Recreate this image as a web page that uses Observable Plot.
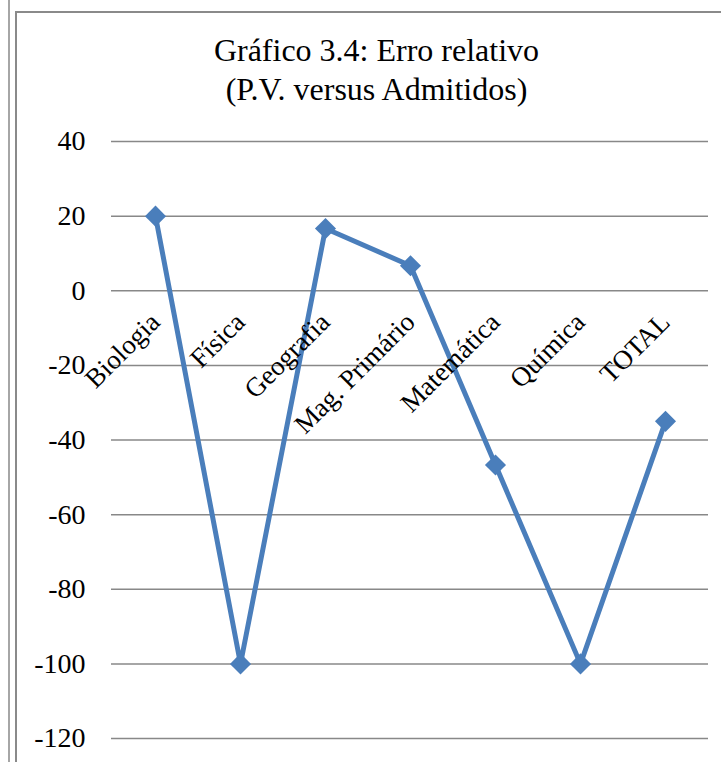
<!DOCTYPE html>
<html>
<head>
<meta charset="utf-8">
<script src="https://cdn.jsdelivr.net/npm/d3@7"></script>
<script src="https://cdn.jsdelivr.net/npm/@observablehq/plot@0.6"></script>
<style>
  html, body { margin: 0; padding: 0; background: #fff; }
  #wrap { position: relative; width: 721px; height: 762px; overflow: hidden; }
  #outer { position: absolute; left: 8px; top: 0; width: 2px; height: 762px; background: #a6a6a6; }
  #inner { position: absolute; left: 15px; top: 11px; width: 720px; height: 800px; border-left: 2px solid #8a8a8a; border-top: 2px solid #8a8a8a; }
  #title { position: absolute; left: 16px; top: 31px; width: 721px; text-align: center; font-family: "Liberation Serif", serif; font-size: 32px; line-height: 39px; color: #000; }
  #chart { position: absolute; left: 0; top: 0; }
</style>
</head>
<body>
<div id="wrap">
  <div id="outer"></div>
  <div id="inner"></div>
  <div id="chart"></div>
  <div id="title">Gráfico 3.4: Erro relativo<br>(P.V. versus Admitidos)</div>
</div>
<script>
const categories = ["Biologia", "Física", "Geografia", "Mag. Primário", "Matemática", "Química", "TOTAL"];
const values = [20, -100, 16.7, 6.7, -46.7, -100, -35];
const yTicks = [-120, -100, -80, -60, -40, -20, 0, 20, 40];

const data = categories.map((c, i) => ({category: c, value: values[i]}));

const chart = Plot.plot({
  width: 721,
  height: 762,
  marginLeft: 111,
  marginRight: 13,
  marginTop: 141,
  marginBottom: 24,
  style: {fontFamily: "Liberation Serif, serif", background: "transparent", overflow: "visible"},
  x: {type: "point", domain: categories, padding: 0.5, axis: null},
  y: {domain: [-120, 40], axis: null},
  marks: [
    Plot.gridY(yTicks, {stroke: "#888888", strokeOpacity: 1, strokeWidth: 1.5}),
    Plot.axisY(yTicks, {tickSize: 0, tickPadding: 26, fontSize: 28, fill: "#000", label: null, tickFormat: d => String(d)}),
    Plot.line(data, {x: "category", y: "value", stroke: "#4a7ebb", strokeWidth: 5, strokeLinejoin: "miter"}),
    Plot.dot(data, {x: "category", y: "value", symbol: "diamond2", r: 9.5, fill: "#4a7ebb", stroke: "none"}),
    Plot.text(categories, {x: d => d, y: () => 0, text: d => d, rotate: -45, textAnchor: "end", fontSize: 27, fill: "#000", dx: 6, dy: 33, lineAnchor: "bottom"})
  ]
});
document.getElementById("chart").appendChild(chart);
</script>
</body>
</html>
